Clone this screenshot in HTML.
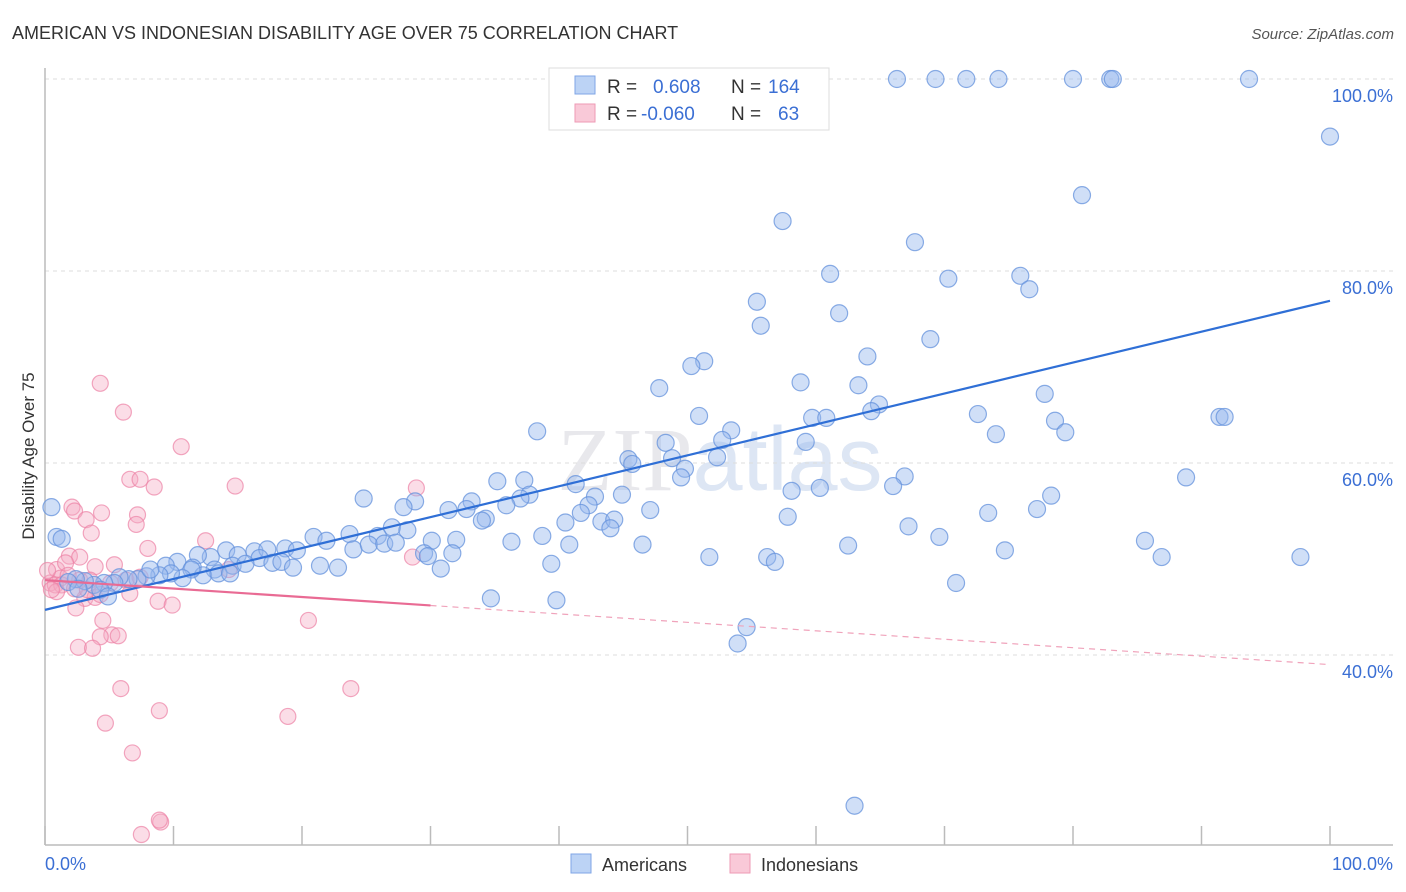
<!DOCTYPE html>
<html><head><meta charset="utf-8"><style>
body{margin:0;background:#fff;font-family:"Liberation Sans",sans-serif;}
svg{display:block}
</style></head><body>
<svg id="chart" width="1406" height="892">
<text x="12" y="39" font-size="18" fill="#333">AMERICAN VS INDONESIAN DISABILITY AGE OVER 75 CORRELATION CHART</text>
<text x="1394" y="39" font-size="15" fill="#555" font-style="italic" text-anchor="end">Source: ZipAtlas.com</text>
<text x="720" y="490" font-size="90" fill="#e8e8ec" text-anchor="middle" font-family="Liberation Serif,serif">ZIP<tspan fill="#dde6f4" font-family="Liberation Sans,sans-serif">atlas</tspan></text>
<g id="grid"></g>
<line x1="45" y1="68" x2="45" y2="845" stroke="#bbb" stroke-width="1.5"/>
<line x1="45" y1="845" x2="1393" y2="845" stroke="#bbb" stroke-width="1.5"/>
<text transform="translate(34,456) rotate(-90)" font-size="17" fill="#333" text-anchor="middle">Disability Age Over 75</text>
<text x="45" y="870" font-size="18" fill="#3b6fd4">0.0%</text>
<text x="1393" y="870" font-size="18" fill="#3b6fd4" text-anchor="end">100.0%</text>
<g id="pts"></g>
<g id="lines"></g>
<g>
<rect x="549" y="68" width="280" height="62" fill="#fff" stroke="#ddd"/>
<rect x="575" y="76" width="20" height="18" fill="#bcd3f5" stroke="#7fa6e6"/>
<rect x="575" y="104" width="20" height="18" fill="#f9c9d8" stroke="#ee9ab5"/>
<text x="607" y="93" font-size="19" fill="#333">R = <tspan fill="#3b6fd4" x="653">0.608</tspan><tspan x="731" fill="#333">N = </tspan><tspan fill="#3b6fd4" x="768">164</tspan></text>
<text x="607" y="120" font-size="19" fill="#333">R = <tspan fill="#3b6fd4" x="641">-0.060</tspan><tspan x="731" fill="#333">N = </tspan><tspan fill="#3b6fd4" x="778">63</tspan></text>
</g>
<g>
<rect x="571" y="854" width="20" height="19" fill="#bcd3f5" stroke="#7fa6e6"/>
<text x="602" y="871" font-size="18" fill="#333">Americans</text>
<rect x="730" y="854" width="20" height="19" fill="#f9c9d8" stroke="#ee9ab5"/>
<text x="761" y="871" font-size="18" fill="#333">Indonesians</text>
</g>
</svg>
<script>
const yTicks=[40,60,80,100];
const xTicks=[0,10,20,30,40,50,60,70,80,90,100];
const blueX=[66.3,69.3,71.7,74.2,80.0,82.9,83.1,93.7,100,80.7,57.4,67.7,61.1,70.3,75.9,76.6,55.4,61.8,55.7,68.9,64.0,51.3,50.3,47.8,58.8,63.3,77.8,64.9,50.9,59.7,60.8,64.3,72.6,91.4,91.8,78.6,74.0,79.4,38.3,53.4,52.7,48.3,59.2,45.4,48.8,52.3,45.7,49.8,49.5,35.2,37.3,88.8,66.9,66.0,41.3,58.1,60.3,78.3,24.8,28.8,33.2,37.7,37.0,35.9,42.8,44.9,42.3,31.4,32.8,47.1,27.9,41.7,34.3,34.0,40.5,43.3,44.3,57.8,73.4,77.2,44.0,67.2,0.5,27.0,28.2,25.9,23.7,20.9,38.7,36.3,0.9,1.3,69.6,85.6,21.9,24.0,25.2,26.4,27.3,30.1,32.0,46.5,40.8,62.5,74.7,86.9,97.7,14.1,16.3,17.3,18.7,19.6,16.7,17.7,18.4,12.9,15.0,11.9,10.3,9.4,11.5,14.6,15.6,19.3,21.4,22.8,29.5,29.8,31.7,51.7,56.2,56.8,39.4,30.8,13.2,12.3,11.4,10.7,9.8,8.9,7.9,7.2,6.5,5.8,5.4,4.6,3.8,3.1,2.4,1.8,2.6,4.3,4.9,70.9,34.7,39.8,54.6,53.9,63.0,13.5,14.4,8.2];
const blueY=[100,100,100,100,100,100,100,100,94.0,87.9,85.2,83.0,79.7,79.2,79.5,78.1,76.8,75.6,74.3,72.9,71.1,70.6,70.1,67.8,68.4,68.1,67.2,66.1,64.9,64.7,64.7,65.4,65.1,64.8,64.8,64.4,63.0,63.2,63.3,63.4,62.4,62.1,62.2,60.4,60.5,60.6,59.9,59.4,58.5,58.1,58.2,58.5,58.6,57.6,57.8,57.1,57.4,56.6,56.3,56.0,56.0,56.7,56.3,55.6,56.5,56.7,55.6,55.1,55.2,55.1,55.4,54.8,54.2,54.0,53.8,53.9,54.1,54.4,54.8,55.2,53.2,53.4,55.4,53.3,53.0,52.4,52.6,52.3,52.4,51.8,52.3,52.1,52.3,51.9,51.9,51.0,51.5,51.6,51.7,51.9,52.0,51.5,51.5,51.4,50.9,50.2,50.2,50.9,50.8,51.0,51.1,50.9,50.1,49.6,49.7,50.2,50.4,50.4,49.7,49.3,49.1,49.3,49.5,49.1,49.3,49.1,50.6,50.3,50.6,50.2,50.2,49.7,49.5,49.0,48.9,48.3,48.9,48.0,48.5,48.3,48.2,47.9,47.9,48.1,47.5,47.5,47.3,47.7,47.9,47.6,46.9,46.8,46.1,47.5,45.9,45.7,42.9,41.2,24.3,48.5,48.5,48.9];
const pinkX=[4.3,6.1,10.6,6.6,7.4,8.5,14.8,28.9,2.1,2.3,4.4,3.2,7.2,7.1,3.6,12.5,8.0,1.9,2.7,0.9,1.6,3.9,5.4,1.2,0.4,0.8,1.3,2.7,3.5,5.1,6.3,7.4,0.9,3.1,3.9,6.6,8.8,9.9,2.4,4.5,5.2,5.7,4.3,2.6,3.7,20.5,14.3,28.6,5.9,23.8,8.9,18.9,4.7,6.8,7.5,9.0,8.9,0.2,0.5,1.8,2.3,3.3,4.3];
const pinkY=[68.3,65.3,61.7,58.3,58.3,57.5,57.6,57.4,55.4,55.0,54.8,54.1,54.6,53.6,52.7,51.9,51.1,50.3,50.2,48.9,49.6,49.2,49.4,48.0,47.5,47.3,47.3,47.8,47.8,47.5,47.8,48.1,46.6,45.9,46.0,46.4,45.6,45.2,44.9,43.6,42.1,42.0,41.9,40.8,40.7,43.6,48.9,50.2,36.5,36.5,34.2,33.6,32.9,29.8,21.3,22.6,22.8,48.8,46.8,48.3,46.9,46.8,46.3];
const blueTrend=[44.7,76.9];
const pinkTrend=[47.8,39.0];
const pinkSolidEnd=30;

const NS='http://www.w3.org/2000/svg';
const xs=v=>45+v*12.85;
const ys=v=>79+(100-v)*9.6;
function mk(tag,attrs,parent){const e=document.createElementNS(NS,tag);for(const k in attrs)e.setAttribute(k,attrs[k]);parent.appendChild(e);return e;}
const grid=document.getElementById('grid');
yTicks.forEach(t=>{
  const l=mk('line',{x1:45,x2:1393,y1:ys(t),y2:ys(t),stroke:'#ddd','stroke-dasharray':'4,4'},grid);
  
  
  const tx=mk('text',{x:1393,y:ys(t)+23,'font-size':18,fill:'#3b6fd4','text-anchor':'end'},grid);
  tx.textContent=t.toFixed(1)+'%';
  
  
});
xTicks.forEach(t=>{
  const l=mk('line',{x1:xs(t),x2:xs(t),y1:826,y2:845,stroke:'#bbb','stroke-width':1.5},grid);
  
  
});
const pts=document.getElementById('pts');
pinkX.forEach((v,i)=>{
  const c=mk('circle',{cx:xs(v),cy:ys(pinkY[i]),r:8,fill:'rgba(246,170,195,0.4)',stroke:'rgba(236,130,165,0.7)','stroke-width':1.2},pts);
  
  
});
blueX.forEach((v,i)=>{
  const c=mk('circle',{cx:xs(v),cy:ys(blueY[i]),r:8.5,fill:'rgba(150,185,238,0.45)',stroke:'rgba(100,145,220,0.75)','stroke-width':1.2},pts);
  
  
});
const lines=document.getElementById('lines');
let bl=mk('line',{x1:xs(0),y1:ys(blueTrend[0]),x2:xs(100),y2:ys(blueTrend[1]),stroke:'#2f6fd6','stroke-width':2.2},lines);


const pm=pinkTrend[0]+(pinkTrend[1]-pinkTrend[0])*pinkSolidEnd/100;
let pl=mk('line',{x1:xs(0),y1:ys(pinkTrend[0]),x2:xs(pinkSolidEnd),y2:ys(pm),stroke:'#e96b94','stroke-width':2.2},lines);


let pd=mk('line',{x1:xs(pinkSolidEnd),y1:ys(pm),x2:xs(100),y2:ys(pinkTrend[1]),stroke:'#f0a3bb','stroke-width':1.2,'stroke-dasharray':'6,5'},lines);


</script>
</body></html>
